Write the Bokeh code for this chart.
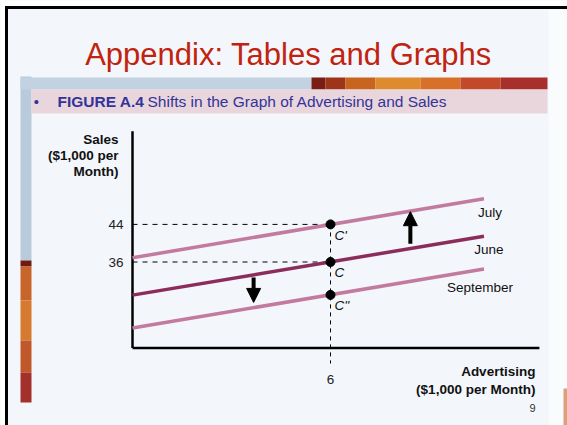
from bokeh.plotting import figure
from bokeh.models import Arrow, NormalHead, ColumnDataSource, Range1d
from bokeh.core.properties import value
from bokeh.embed import file_html
from bokeh.resources import INLINE

# ---------------- data ----------------
advertising = [0.0, 10.65]            # $1,000 per month (extent of each line)
sales_july = [36.9, 49.45]            # $1,000 per month
sales_june = [28.95, 41.5]
sales_september = [21.95, 34.5]
series_names = ["July", "June", "September"]

point_x = [6, 6, 6]
point_y = [44, 36, 29]
point_labels = ["C'", "C", "C''"]

y_ticks = [44, 36]
y_tick_labels = ["44", "36"]
x_ticks = [6]
x_tick_labels = ["6"]

x_axis_extent = [0.0, 12.33]
y_axis_extent = [17.7, 63.8]
guide_bottom = 14.4

shift_x = [8.42, 3.67]
shift_from = [39.9, 32.7]
shift_to = [46.7, 27.4]

title_text = "Appendix: Tables and Graphs"
fig_label = "FIGURE A.4"
fig_caption = "Shifts in the Graph of Advertising and Sales"
y_title = ["Sales", "($1,000 per", "Month)"]
x_title = ["Advertising", "($1,000 per Month)"]
slide_number = "9"

# ---------------- layout helpers (page pixel -> data) ----------------
X0, KX = 132.0, 33.0
Y36, KY = 261.5, 4.7
W, H = 567, 425


def X(px):
    return (px - X0) / KX


def Y(py):
    return 36 + (Y36 - py) / KY


FONT = value("Liberation Sans")
LIGHT = "#c27a9f"
DARK = "#8c2c5c"
BG = "#f3f6fb"

p = figure(width=W, height=H, output_backend="svg", toolbar_location=None,
           x_range=Range1d(X(0), X(W)), y_range=Range1d(Y(H), Y(0)),
           x_axis_location=None, y_axis_location=None, min_border=0)
p.grid.visible = False
p.outline_line_color = None
p.background_fill_color = BG
p.border_fill_color = BG

# ---------------- slide decoration ----------------
# white page outside the slide frame
p.quad(left=X(0), right=X(W), bottom=Y(6), top=Y(0), fill_color="white", line_color=None)
p.quad(left=X(0), right=X(5), bottom=Y(H), top=Y(0), fill_color="white", line_color=None)
# lighter right margin
p.quad(left=X(548), right=X(W), bottom=Y(H), top=Y(9), fill_color="#f9fbfd", line_color=None)
# small corner strip
p.quad(left=X(563), right=X(W), bottom=Y(H), top=Y(388), fill_color="#d9a07a", line_color=None)
# left vertical bar
p.quad(left=X(20), right=X(31), bottom=Y(260), top=Y(76), fill_color="#b8cadc", line_color=None)
bar_stops = [(260, 266, "#6e1b12"), (266, 300, "#c8652a"), (300, 340, "#d67a30"),
             (340, 372, "#c0582a"), (372, 402, "#a3302a")]
for t, b, c in bar_stops:
    p.quad(left=X(20), right=X(31), bottom=Y(b), top=Y(t), fill_color=c, line_color=None)
# top stripe
p.quad(left=X(20), right=X(311), bottom=Y(89), top=Y(77), fill_color="#c3d2e0", line_color=None)
stripe_stops = [(311, 325, "#7a1d14"), (325, 345, "#9e3518"), (345, 375, "#c9641f"),
                (375, 420, "#e08a30"), (420, 460, "#d8702a"), (460, 500, "#c4482a"),
                (500, 547, "#a8302a")]
for l, r, c in stripe_stops:
    p.quad(left=X(l), right=X(r), bottom=Y(89), top=Y(77), fill_color=c, line_color=None)
# pink caption box
p.quad(left=X(31), right=X(547), bottom=Y(113), top=Y(89), fill_color="#e8d6dc", line_color=None)
# slide frame (top and left)
p.line(x=[X(6), X(W)], y=[Y(7), Y(7)], line_color="black", line_width=3)
p.line(x=[X(6), X(6)], y=[Y(5.5), Y(H)], line_color="black", line_width=3)

# title and caption
p.text(x=[X(288)], y=[Y(54)], text=[title_text], text_font=FONT, text_font_size="31px",
       text_color="#c0230e", text_align="center", text_baseline="alphabetic")
p.text(x=[X(36)], y=[Y(101)], text=["\u2022"], text_font=FONT, text_font_size="15px",
       text_color="#333399", text_align="center", text_baseline="middle")
p.text(x=[X(57)], y=[Y(101)], text=[fig_label], text_font=FONT, text_font_size="15.5px",
       text_font_style="bold", text_color="#333399", text_align="left", text_baseline="middle")
p.text(x=[X(147)], y=[Y(101)], text=[fig_caption], text_font=FONT, text_font_size="15.5px",
       text_color="#333399", text_align="left", text_baseline="middle")
p.text(x=[X(532)], y=[Y(407)], text=[slide_number], text_font=FONT, text_font_size="11px",
       text_color="#333333", text_align="center", text_baseline="middle")

# ---------------- chart ----------------
# axes
p.line(x=[0, 0], y=y_axis_extent, line_color="black", line_width=2.5)
p.line(x=x_axis_extent, y=[y_axis_extent[0], y_axis_extent[0]], line_color="black", line_width=2.5)

# dashed guides
for yt, xp in zip([44, 36], [6, 6]):
    p.line(x=[0, xp], y=[yt, yt], line_color="black", line_width=1, line_dash="5 5")
p.line(x=[6, 6], y=[max(point_y), guide_bottom], line_color="black", line_width=1, line_dash="4 4")

# the three curves
p.line(x=advertising, y=sales_july, line_color=LIGHT, line_width=3.5)
p.line(x=advertising, y=sales_june, line_color=DARK, line_width=3.5)
p.line(x=advertising, y=sales_september, line_color=LIGHT, line_width=3.5)

# curve labels
p.text(x=[advertising[1]] * 3, y=[sales_july[1], sales_june[1], sales_september[1]],
       text=series_names, x_offset=[6, 5, -4], y_offset=[14, 13, 18],
       text_font=FONT, text_font_size="13.5px", text_color="#111111",
       text_align="center", text_baseline="middle")

# points
p.scatter(x=point_x, y=point_y, size=9, fill_color="black", line_color="black")
p.text(x=point_x, y=point_y, text=point_labels, x_offset=4, y_offset=[11, 10, 11],
       text_font=FONT, text_font_size="13.5px", text_font_style="italic",
       text_color="#111111", text_align="left", text_baseline="middle")

# shift arrows
arr_src = ColumnDataSource(dict(x0=shift_x, y0=shift_from, x1=shift_x, y1=shift_to))
p.add_layout(Arrow(end=NormalHead(size=14, fill_color="black", line_color="black"),
                   x_start="x0", y_start="y0", x_end="x1", y_end="y1",
                   line_width=4, line_color="black", source=arr_src))

# tick labels
p.text(x=[0] * len(y_ticks), y=y_ticks, text=y_tick_labels, x_offset=-9,
       text_font=FONT, text_font_size="13.5px", text_color="#222222",
       text_align="right", text_baseline="middle")
p.text(x=x_ticks, y=[y_axis_extent[0]] * len(x_ticks), text=x_tick_labels, y_offset=31,
       text_font=FONT, text_font_size="13.5px", text_color="#222222",
       text_align="center", text_baseline="middle")

# axis titles
p.text(x=[0] * 3, y=[y_axis_extent[1]] * 3, text=y_title, x_offset=-14, y_offset=[8, 24.5, 40],
       text_font=FONT, text_font_size="13.5px", text_font_style="bold", text_color="#111111",
       text_align="right", text_baseline="middle")
p.text(x=[x_axis_extent[1]] * 2, y=[y_axis_extent[0]] * 2, text=x_title, x_offset=-4,
       y_offset=[23.5, 41.5], text_font=FONT, text_font_size="13.5px", text_font_style="bold",
       text_color="#111111", text_align="right", text_baseline="middle")

open("out.html", "w").write(file_html(p, INLINE))
